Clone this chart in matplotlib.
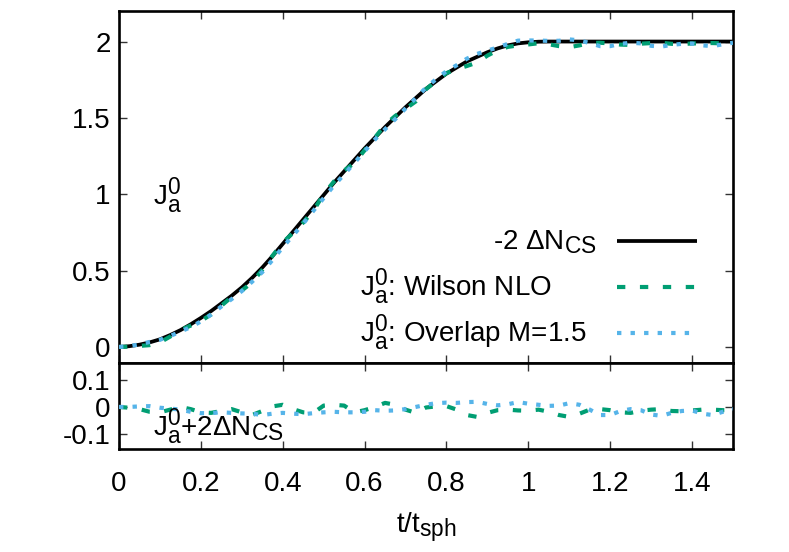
import numpy as np
import matplotlib
matplotlib.use("Agg")
import matplotlib.pyplot as plt
from matplotlib.lines import Line2D
try:
    import matplotlib._mathtext as _mt
    _mt.SHRINK_FACTOR = 0.82
except Exception:
    pass

plt.rcParams['font.family'] = ['Liberation Sans', 'DejaVu Sans']
plt.rcParams['mathtext.fontset'] = 'custom'
plt.rcParams['mathtext.rm'] = 'Liberation Sans'
plt.rcParams['mathtext.it'] = 'Liberation Sans'
plt.rcParams['mathtext.bf'] = 'Liberation Sans'
plt.rcParams['mathtext.default'] = 'regular'
plt.rcParams['axes.unicode_minus'] = False

# ---- data ----
t = [round(0.025 * i, 3) for i in range(61)]

minus2_dNcs = [0.000, 0.005, 0.015, 0.030, 0.050, 0.078, 0.110, 0.148, 0.190, 0.235,
               0.285, 0.335, 0.390, 0.452, 0.520, 0.595, 0.675, 0.755, 0.835, 0.915,
               0.995, 1.075, 1.150, 1.225, 1.300, 1.370, 1.440, 1.505, 1.570, 1.630,
               1.690, 1.740, 1.790, 1.830, 1.870, 1.900, 1.930, 1.955, 1.975, 1.988,
               1.995, 1.999, 2.000, 2.000, 2.000, 2.000, 2.000, 2.000, 2.000, 2.000,
               2.000, 2.000, 2.000, 2.000, 2.000, 2.000, 2.000, 2.000, 2.000, 2.000,
               2.000]

resid_wilson = [0.000, -0.003, -0.008, -0.018, -0.020, -0.010, 0.000, -0.008, -0.020, -0.022,
                -0.015, -0.008, -0.020, -0.030, -0.015, 0.002, 0.008, -0.008, -0.020, -0.022,
                0.005, 0.008, 0.005, -0.020, -0.012, 0.000, 0.015, 0.008, -0.010, -0.022,
                -0.002, 0.002, 0.003, -0.010, -0.030, -0.037, -0.022, -0.012, -0.010, -0.013,
                -0.014, -0.010, -0.018, -0.030, -0.037, -0.025, -0.010, -0.008, -0.012, -0.020,
                -0.022, -0.014, -0.010, -0.008, -0.015, -0.016, -0.013, -0.010, -0.010, -0.012,
                -0.012]

resid_overlap = [0.000, 0.000, 0.002, 0.003, -0.003, -0.006, -0.010, -0.018, -0.023, -0.023,
                 -0.020, -0.022, -0.024, -0.025, -0.030, -0.025, -0.022, -0.025, -0.027, -0.023,
                 -0.020, -0.018, -0.020, -0.020, -0.018, -0.012, -0.014, -0.013, -0.008, 0.000,
                 0.008, 0.014, 0.016, 0.015, 0.018, 0.019, 0.011, 0.006, 0.010, 0.018,
                 0.012, 0.008, 0.004, 0.005, 0.014, 0.008, -0.010, -0.030, -0.030, -0.015,
                 -0.008, -0.012, -0.028, -0.033, -0.022, -0.015, -0.013, -0.025, -0.030, -0.018,
                 -0.008]

J_wilson = [a + b for a, b in zip(minus2_dNcs, resid_wilson)]
J_overlap = [a + b for a, b in zip(minus2_dNcs, resid_overlap)]

main_yticks = [0, 0.5, 1, 1.5, 2]
main_yticklabels = ['0', '0.5', '1', '1.5', '2']
low_yticks = [-0.1, 0, 0.1]
low_yticklabels = ['-0.1', '0', '0.1']
xticks = [0, 0.2, 0.4, 0.6, 0.8, 1.0, 1.2, 1.4]
xticklabels = ['0', '0.2', '0.4', '0.6', '0.8', '1', '1.2', '1.4']

# ---- styling ----
W, H = 789, 552
BLACK = '#000000'
GREEN = '#009e73'
BLUE = '#56b4e9'
FS = 20
LW = 2.7

fig = plt.figure(figsize=(W / 100, H / 100), dpi=100)
L, R = 119 / W, 733 / W
ax = fig.add_axes([L, 1 - 363 / H, R - L, (363 - 11) / H])
ax2 = fig.add_axes([L, 1 - 449 / H, R - L, (449 - 363) / H])

dash_green = (0, (2.0, 3.5))
dot_blue = (0, (1.05, 2.2))

ax.plot(t, minus2_dNcs, color=BLACK, lw=LW, solid_capstyle='butt', zorder=3)
ax.plot(t, J_wilson, color=GREEN, lw=LW + 0.3, linestyle=dash_green, dash_capstyle='butt', zorder=4)
ax.plot(t, J_overlap, color=BLUE, lw=LW + 0.3, linestyle=dot_blue, dash_capstyle='butt', zorder=5)

ax2.plot(t, resid_wilson, color=GREEN, lw=LW + 0.3, linestyle=dash_green, dash_capstyle='butt', zorder=4)
ax2.plot(t, resid_overlap, color=BLUE, lw=LW + 0.3, linestyle=dot_blue, dash_capstyle='butt', zorder=5)

ax.set_xlim(0, 1.5)
ax.set_ylim(-0.105, 2.2)
ax2.set_xlim(0, 1.5)
ax2.set_ylim(-0.156, 0.163)

for a in (ax, ax2):
    for s in a.spines.values():
        s.set_linewidth(1.9)
    a.tick_params(direction='in', length=6, width=1.0, color='#333333',
                  top=True, right=True, labelsize=FS, pad=6)
    a.set_xticks(xticks)

ax.set_yticks(main_yticks)
ax.set_yticklabels(main_yticklabels)
ax.tick_params(labelbottom=False)
ax2.set_yticks(low_yticks)
ax2.set_yticklabels(low_yticklabels)
ax2.set_xticklabels(xticklabels)
ax2.tick_params(axis='x', pad=16)

# labels
fig.text(426 / W, 1 - 533 / H, r'$\mathregular{t/t_{sph}}$', fontsize=FS,
         ha='center', va='baseline')
fig.text(153 / W, 1 - 205 / H, r'$\mathregular{J^0_a}$', fontsize=FS,
         ha='left', va='baseline')
fig.text(153 / W, 1 - 436 / H, r'$\mathregular{J^0_a{+}2\Delta N_{CS}}$', fontsize=FS,
         ha='left', va='baseline')

# legend (gnuplot style: text then sample)
fig.text(597 / W, 1 - 249 / H, r'-2 $\mathregular{\Delta N_{CS}}$', fontsize=FS,
         ha='right', va='baseline')
fig.text(360 / W, 1 - 296 / H, r'$\mathregular{J^0_a}$: Wilson NLO', fontsize=FS,
         ha='left', va='baseline')
fig.text(360 / W, 1 - 342 / H, r'$\mathregular{J^0_a}$: Overlap M=1.5', fontsize=FS,
         ha='left', va='baseline')
x0, x1 = 617 / W, 697 / W
fig.add_artist(Line2D([x0, x1], [1 - 240.7 / H] * 2, transform=fig.transFigure,
                      color=BLACK, lw=LW, solid_capstyle='butt'))
fig.add_artist(Line2D([x0, x1], [1 - 287 / H] * 2, transform=fig.transFigure,
                      color=GREEN, lw=LW + 0.3, linestyle=dash_green, dash_capstyle='butt'))
fig.add_artist(Line2D([x0, x1], [1 - 333 / H] * 2, transform=fig.transFigure,
                      color=BLUE, lw=LW + 0.3, linestyle=dot_blue, dash_capstyle='butt'))

fig.savefig('out.png', dpi=100)
